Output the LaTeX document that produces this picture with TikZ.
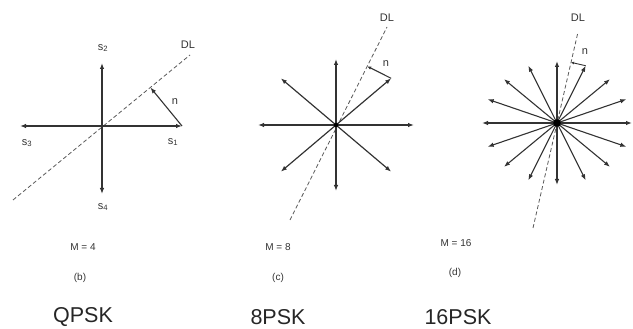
\documentclass[tikz,border=0pt]{standalone}
\usepackage{fontspec}
\setmainfont{Liberation Sans}
\usetikzlibrary{calc,arrows.meta}
\tikzset{
	vec/.style = {-{Latex[length = 6pt, width = 4.5pt]}, line width = 1.2pt, draw = black!80},
	dl/.style = {dash pattern = on 4pt off 2.5pt, line width = 0.8pt, draw = black!65},
	nvec/.style = {-{Latex[length = 6pt, width = 4.5pt]}, line width = 1.1pt, draw = black!80},
	lbl/.style = {font = \fontsize{11}{13}\selectfont, text = black!80, inner sep = 0pt},
	captxt/.style = {font = \fontsize{10}{12}\selectfont, text = black!80, inner sep = 0pt},
	big/.style = {font = \fontsize{21.5}{24}\selectfont, text = black!85, inner sep = 0pt}
}
\begin{document}
\begin{tikzpicture}[x = 1pt, y = -1pt]
	\useasboundingbox (0, 0) rectangle (633, 329);
	
	%	QPSK
	\coordinate (c1) at (102, 126);
	\coordinate (s1) at (182, 126);
	\coordinate (s2) at (102, 63);
	\coordinate (s3) at (20, 126);
	\coordinate (s4) at (102, 194);
	\coordinate (dla) at (13, 200);
	\coordinate (dlb) at (190, 55);
	\draw[dl] (dla) -- (dlb);
	\foreach \s in {s1, s2, s3, s4}
		\draw[vec] (c1) -- (\s);
	\coordinate (n1) at ($(dla)!(s1)!(dlb)$);
	\draw[nvec] (s1) -- (n1);
	\node[lbl] (ls1) at (173, 142) {s\textsubscript{1}};
	\node[lbl] (ls2) at (103, 48) {s\textsubscript{2}};
	\node[lbl] (ls3) at (27, 143) {s\textsubscript{3}};
	\node[lbl] (ls4) at (103, 207) {s\textsubscript{4}};
	\node[lbl] (ln1) at (175, 102) {n};
	\node[lbl] (ldl1) at (188, 45) {DL};
	
	%	8PSK
	\def\rx{78}
	\def\ry{66}
	\coordinate (c2) at (336, 125);
	\coordinate (dlc) at (290, 220);
	\coordinate (dld) at (387, 27);
	\draw[dl] (dlc) -- (dld);
	\foreach \k in {0, ..., 7}
		\draw[vec] (c2) -- ++({\rx*cos(45*\k)}, {-\ry*sin(45*\k)}) coordinate (p\k);
	\fill[black] (c2) circle (2.2pt);
	\coordinate (n2) at ($(dlc)!(p1)!(dld)$);
	\draw[nvec, -{Latex[length = 4pt, width = 3.5pt]}] (p1) -- (n2);
	\node[lbl] (ln2) at (386, 64) {n};
	\node[lbl] (ldl2) at (387, 18) {DL};
	
	%	16PSK
	\def\rx{75}
	\def\ry{62}
	\coordinate (c3) at (557, 123);
	\coordinate (dle) at (533, 228);
	\coordinate (dlf) at (578, 32);
	\draw[dl] (dle) -- (dlf);
	\foreach \k in {0, ..., 15}
		\draw[vec, line width = 1.1pt] (c3) -- ++({\rx*cos(22.5*\k)}, {-\ry*sin(22.5*\k)}) coordinate (q\k);
	\fill[black] (c3) circle (3.8pt);
	\coordinate (n3) at ($(dle)!(q3)!(dlf)$);
	\draw[nvec, line width = 0.9pt, -{Latex[length = 3pt, width = 3pt]}] (q3) -- (n3);
	\node[lbl] (ln3) at (585, 52) {n};
	\node[lbl] (ldl3) at (578, 18) {DL};
	
	%	captions
	\node[captxt] (m1) at (83, 247) {M = 4};
	\node[captxt] (m2) at (278, 247) {M = 8};
	\node[captxt] (m3) at (456, 243) {M = 16};
	\node[captxt] (b1) at (80, 278) {(b)};
	\node[captxt] (b2) at (278, 278) {(c)};
	\node[captxt] (b3) at (455, 273) {(d)};
	\node[big] (t1) at (83, 317) {QPSK};
	\node[big] (t2) at (278, 317) {8PSK};
	\node[big] (t3) at (458, 317) {16PSK};
\end{tikzpicture}
\end{document}
